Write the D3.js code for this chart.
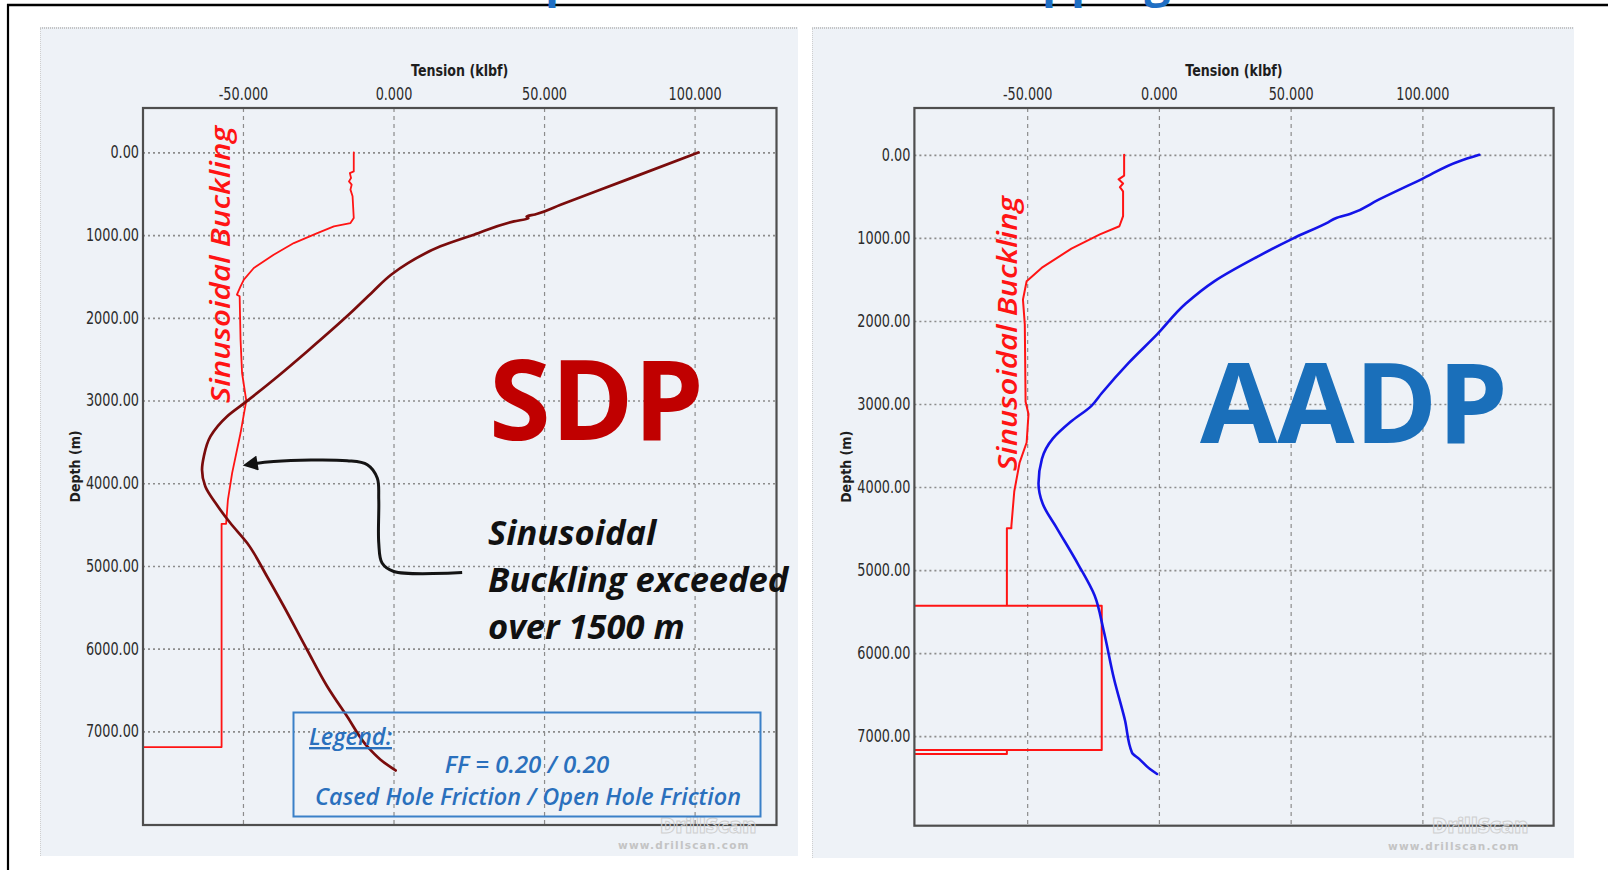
<!DOCTYPE html>
<html>
<head>
<meta charset="utf-8">
<script src="https://cdn.jsdelivr.net/npm/d3@7"></script>
<style>
  html, body { margin: 0; padding: 0; background: #ffffff; }
  svg { display: block; }
</style>
</head>
<body>
<svg id="chart" width="1608" height="870"></svg>
<script>
// ---------------- data ----------------
// axis ticks
const tensionTicks = [-50, 0, 50, 100];
const depthTicks = [0, 1000, 2000, 3000, 4000, 5000, 6000, 7000];

// SDP: string tension (klbf) vs measured depth (m)
const sdpDepth   = [0, 320, 632, 750, 775, 795, 834, 995, 1136, 1338, 1479, 1681, 1942, 2406, 2748, 3010, 3192, 3434, 3676, 3837, 4039, 4240, 4481, 4723, 5127, 5490, 6013, 6457, 6820, 7183, 7343, 7473];
const sdpTension = [101.3, 78.2, 55.5, 47.0, 44.2, 44.8, 40.0, 26.7, 15.6, 4.8, -0.8, -6.8, -14.3, -28.7, -39.8, -48.8, -55.3, -60.8, -63.0, -63.6, -62.5, -59.1, -54.2, -48.6, -42.0, -36.4, -28.7, -22.0, -15.4, -8.7, -4.3, 0.7];

// SDP: sinusoidal buckling limit
const sdpLimitDepth   = [0, 230, 250, 310, 350, 390, 450, 530, 793, 854, 895, 975, 1096, 1237, 1398, 1539, 1620, 1720, 1740, 2265, 2667, 3000, 3393, 3877, 4200, 4441, 4490, 4490, 7190, 7190];
const sdpLimitTension = [-13.2, -13.2, -14.5, -14.1, -14.8, -13.9, -14.3, -13.6, -13.2, -14.3, -19.8, -25.3, -33.1, -39.8, -46.4, -49.7, -50.8, -52.0, -51.1, -50.8, -50.3, -48.9, -50.8, -53.6, -55.0, -55.5, -55.6, -57.1, -57.1, -120];

// AADP: string tension (klbf) vs measured depth (m)
const aadpDepth   = [0, 73, 295, 540, 713, 763, 810, 1008, 1228, 1523, 1794, 2162, 2505, 2874, 3022, 3218, 3415, 3661, 3956, 4202, 4497, 4939, 5307, 5725, 6315, 6806, 7199, 7273, 7396, 7455];
const aadpTension = [121.6, 114.3, 99.6, 83.4, 72.5, 67.1, 64.4, 50.8, 37.3, 21.0, 10.1, -0.7, -11.5, -21.8, -25.6, -33.6, -40.2, -44.4, -45.7, -44.1, -38.7, -30.5, -24.4, -21.0, -17.0, -12.9, -10.2, -7.5, -3.4, -0.7];

// AADP: sinusoidal buckling limit
const aadpLimitDepth   = [0, 250, 295, 345, 390, 440, 737, 860, 958, 1130, 1351, 1523, 1744, 2040, 2973, 3121, 3464, 3710, 4054, 4471, 4497, 4497, 5430, 5430, 5430, 7165, 7165, 7214, 7214, 7165];
const aadpLimitTension = [-13.2, -13.2, -15.3, -13.6, -14.8, -13.6, -13.6, -15.0, -22.4, -33.2, -44.1, -50.2, -51.6, -50.9, -50.6, -49.5, -50.2, -52.9, -54.9, -56.0, -56.0, -57.7, -57.7, -120, -21.7, -21.7, -120, -120, -57.7, -57.7];

// callout arrow on the SDP chart, in (tension, depth) units
const arrowTension = [22.8, 0.1, -3.8, -4.9, -4.9, -5.4, -8.7, -15.4, -39.8, -48.6];
const arrowDepth   = [5079, 5067, 4965, 4723, 4200, 3937, 3776, 3728, 3736, 3776];

// ---------------- styles ----------------
const PANEL_BG = "#eef2f7";
const GRID = "#8c8c8c";
const LIMIT_RED = "#ff1414";
const SDP_COLOR = "#7a0c0c";
const AADP_COLOR = "#1414e8";
const TICK_FONT = '"Liberation Sans Narrow", "Arial Narrow", "DejaVu Sans Condensed", sans-serif';
const CAL_FONT = '"Open Sans", "Noto Sans", sans-serif';

// plain hyphen for negatives, as the drilling software prints them
const locale = d3.formatLocale({ decimal: ".", thousands: ",", grouping: [3], currency: ["", ""], minus: "-" });
const fmtTension = locale.format(".3f");
const fmtDepth = locale.format(".2f");

const svg = d3.select("#chart");

// page frame
svg.append("line").attr("x1", 7).attr("x2", 1608).attr("y1", 5).attr("y2", 5)
  .attr("stroke", "#000").attr("stroke-width", 2.5);
svg.append("line").attr("x1", 8).attr("x2", 8).attr("y1", 4).attr("y2", 870)
  .attr("stroke", "#000").attr("stroke-width", 2.2);

// page title (sits above the visible area, only descenders peek out)
const title = svg.append("text")
  .attr("y", -3)
  .style("font-family", CAL_FONT).style("font-weight", 700).style("font-size", "46px")
  .attr("fill", "#1f6fc4")
  .text("SDP vs AADP Comparison while Tripping");

const panels = [
  {
    id: "sdp",
    bg: [40, 27, 798, 856],
    frame: [143, 108, 776.5, 825],
    xDomain: [-83.2, 127.2],
    yDomain: [-537, 8132],
    depthTitleX: 80,
    series: [
      { t: sdpLimitTension, d: sdpLimitDepth, color: LIMIT_RED, width: 1.8, curve: d3.curveLinear },
      { t: sdpTension, d: sdpDepth, color: SDP_COLOR, width: 2.7, curve: d3.curveMonotoneY }
    ],
    buckleLabel: [230, 403, 277],
    watermark: [660, 833, 618, 849]
  },
  {
    id: "aadp",
    bg: [812, 27, 1574, 858],
    frame: [914.4, 108, 1553.6, 825.7],
    xDomain: [-92.8, 149.8],
    yDomain: [-564, 8078],
    depthTitleX: 851,
    series: [
      { t: aadpLimitTension, d: aadpLimitDepth, color: LIMIT_RED, width: 2, curve: d3.curveLinear },
      { t: aadpTension, d: aadpDepth, color: AADP_COLOR, width: 2.6, curve: d3.curveMonotoneY }
    ],
    buckleLabel: [1017, 471, 275],
    watermark: [1432, 833, 1388, 850]
  }
];

const scales = {};

panels.forEach(p => {
  const [bx0, by0, bx1, by1] = p.bg;
  const [fx0, fy0, fx1, fy1] = p.frame;
  const g = svg.append("g").attr("class", "panel-" + p.id);

  // panel background
  g.append("rect").attr("x", bx0).attr("y", by0).attr("width", bx1 - bx0).attr("height", by1 - by0)
    .attr("fill", PANEL_BG);
  g.append("line").attr("x1", bx0).attr("x2", bx1).attr("y1", by0 + 1).attr("y2", by0 + 1)
    .attr("stroke", "#c4c4c4").attr("stroke-width", 2).attr("stroke-dasharray", "1,1");
  g.append("line").attr("x1", bx0 + 0.5).attr("x2", bx0 + 0.5).attr("y1", by0).attr("y2", by1)
    .attr("stroke", "#cfcfcf").attr("stroke-width", 1).attr("stroke-dasharray", "1,1");

  const x = d3.scaleLinear().domain(p.xDomain).range([fx0, fx1]);
  const y = d3.scaleLinear().domain(p.yDomain).range([fy0, fy1]);
  scales[p.id] = { x, y };

  // top axis: tension labels + vertical dashed grid
  const xAxis = d3.axisTop(x)
    .tickValues(tensionTicks)
    .tickFormat(fmtTension)
    .tickSize(-(fy1 - fy0))
    .tickPadding(8);
  const gx = g.append("g").attr("transform", `translate(0,${fy0})`).call(xAxis);
  gx.select(".domain").remove();
  gx.selectAll(".tick line").attr("stroke", GRID).attr("stroke-width", 1.2).attr("stroke-dasharray", "4,4");
  gx.selectAll(".tick text")
    .attr("transform", "scale(0.84,1)")
    .style("font-family", TICK_FONT).style("font-size", "17px")
    .attr("fill", "#2b2b2b");

  // left axis: depth labels + horizontal dotted grid
  const yAxis = d3.axisLeft(y)
    .tickValues(depthTicks)
    .tickFormat(fmtDepth)
    .tickSize(-(fx1 - fx0))
    .tickPadding(4);
  const gy = g.append("g").attr("transform", `translate(${fx0},0)`).call(yAxis);
  gy.select(".domain").remove();
  gy.selectAll(".tick line").attr("stroke", GRID).attr("stroke-width", 1.6).attr("stroke-dasharray", "2,3");
  gy.selectAll(".tick text")
    .attr("x", -4.8)
    .attr("transform", "scale(0.84,1)")
    .style("font-family", TICK_FONT).style("font-size", "17px")
    .attr("fill", "#2b2b2b");

  // axis titles
  g.append("text")
    .attr("transform", `translate(${(fx0 + fx1) / 2},76) scale(0.88,1)`)
    .attr("text-anchor", "middle")
    .style("font-family", TICK_FONT).style("font-weight", 700).style("font-size", "16px")
    .attr("fill", "#1e1e1e")
    .text("Tension (klbf)");
  g.append("text")
    .attr("transform", `translate(${p.depthTitleX},${(fy0 + fy1) / 2}) rotate(-90)`)
    .attr("text-anchor", "middle")
    .style("font-family", TICK_FONT).style("font-weight", 700).style("font-size", "14px")
    .attr("fill", "#1e1e1e")
    .text("Depth (m)");

  // clip for data lines
  g.append("clipPath").attr("id", "clip-" + p.id)
    .append("rect").attr("x", fx0).attr("y", fy0).attr("width", fx1 - fx0).attr("height", fy1 - fy0);

  const plot = g.append("g").attr("clip-path", `url(#clip-${p.id})`);
  p.series.forEach(s => {
    const line = d3.line().x(d => x(d[0])).y(d => y(d[1])).curve(s.curve);
    plot.append("path")
      .datum(d3.zip(s.t, s.d))
      .attr("d", line)
      .attr("fill", "none")
      .attr("stroke", s.color)
      .attr("stroke-width", s.width)
      .attr("stroke-linejoin", "round")
      .attr("stroke-linecap", "round");
  });

  // plot frame
  g.append("rect").attr("x", fx0).attr("y", fy0).attr("width", fx1 - fx0).attr("height", fy1 - fy0)
    .attr("fill", "none").attr("stroke", "#4e4e4e").attr("stroke-width", 2.2);

  // sinusoidal buckling label along the limit line
  g.append("text")
    .attr("transform", `translate(${p.buckleLabel[0]},${p.buckleLabel[1]}) rotate(-90)`)
    .attr("textLength", p.buckleLabel[2]).attr("lengthAdjust", "spacingAndGlyphs")
    .style("font-family", CAL_FONT).style("font-style", "italic").style("font-weight", 600)
    .style("font-size", "27px")
    .attr("fill", LIMIT_RED)
    .text("Sinusoidal Buckling");

  // drillscan watermark
  const [wx, wy, ux, uy] = p.watermark;
  g.append("text").attr("x", wx).attr("y", wy)
    .style("font-family", CAL_FONT).style("font-weight", 800).style("font-size", "21px")
    .attr("fill", "none").attr("stroke", "#cfcfcf").attr("stroke-width", 1)
    .text("DrillScan");
  g.append("text").attr("x", ux).attr("y", uy)
    .style("font-family", "DejaVu Sans, sans-serif").style("font-weight", 700).style("font-size", "10.5px")
    .attr("letter-spacing", 1.2)
    .attr("fill", "#c4c4c4")
    .text("www.drillscan.com");
});

// ---- SDP panel annotations ----
const sx = scales.sdp.x, sy = scales.sdp.y;

svg.append("text")
  .attr("x", 489).attr("y", 440)
  .style("font-family", CAL_FONT).style("font-weight", 700).style("font-size", "112px")
  .attr("fill", "#c00000")
  .text("SDP");

svg.append("defs").append("marker")
  .attr("id", "arrowhead")
  .attr("viewBox", "0 0 10 10").attr("refX", 7).attr("refY", 5)
  .attr("markerWidth", 5.5).attr("markerHeight", 5)
  .attr("orient", "auto")
  .append("path").attr("d", "M0,0 L10,5 L0,10 Z").attr("fill", "#111");

svg.append("path")
  .datum(d3.zip(arrowTension, arrowDepth))
  .attr("d", d3.line().x(d => sx(d[0])).y(d => sy(d[1])).curve(d3.curveCatmullRom.alpha(0.5)))
  .attr("fill", "none").attr("stroke", "#141414").attr("stroke-width", 3)
  .attr("marker-end", "url(#arrowhead)");

const note = svg.append("text")
  .style("font-family", CAL_FONT).style("font-style", "italic").style("font-weight", 700)
  .style("font-size", "34.5px").attr("fill", "#111");
[["Sinusoidal", 545], ["Buckling exceeded", 592], ["over 1500 m", 639]].forEach(([t, yy]) => {
  note.append("tspan").attr("x", 488).attr("y", yy).text(t);
});

// legend box
const legend = svg.append("g");
legend.append("rect").attr("x", 293.5).attr("y", 712.5).attr("width", 467).attr("height", 104)
  .attr("fill", "none").attr("stroke", "#3a80c8").attr("stroke-width", 2);
legend.append("text").attr("x", 309).attr("y", 745)
  .style("font-family", CAL_FONT).style("font-style", "italic").style("font-weight", 600)
  .style("font-size", "23.5px").style("text-decoration", "underline")
  .attr("fill", "#2a70bd").text("Legend:");
legend.append("text").attr("x", 527).attr("y", 773).attr("text-anchor", "middle")
  .style("font-family", CAL_FONT).style("font-style", "italic").style("font-weight", 600)
  .style("font-size", "24px")
  .attr("fill", "#2a70bd").text("FF = 0.20 / 0.20");
legend.append("text").attr("x", 528).attr("y", 805).attr("text-anchor", "middle")
  .attr("textLength", 426).attr("lengthAdjust", "spacingAndGlyphs")
  .style("font-family", CAL_FONT).style("font-style", "italic").style("font-weight", 600)
  .style("font-size", "24px")
  .attr("fill", "#2a70bd").text("Cased Hole Friction / Open Hole Friction");

// ---- AADP panel label ----
svg.append("text")
  .attr("x", 1200).attr("y", 443)
  .style("font-family", CAL_FONT).style("font-weight", 700).style("font-size", "112px")
  .attr("fill", "#1a6fba")
  .text("AADP");

// place the title so the descenders of "Comparison" and "Tripping" fall where expected
(function placeTitle() {
  const el = title.node();
  const s = title.text();
  const i1 = s.indexOf("p");
  const i2 = s.indexOf("pp");
  title.attr("x", 0).attr("word-spacing", 0);
  const base = el.getStartPositionOfChar(i2).x - el.getStartPositionOfChar(i1).x;
  // two word gaps sit between the two descenders
  const ws = (497 - base) / 2;
  title.attr("word-spacing", ws);
  const p1 = el.getStartPositionOfChar(i1).x;
  title.attr("x", 545 - p1);
})();
</script>
</body>
</html>
